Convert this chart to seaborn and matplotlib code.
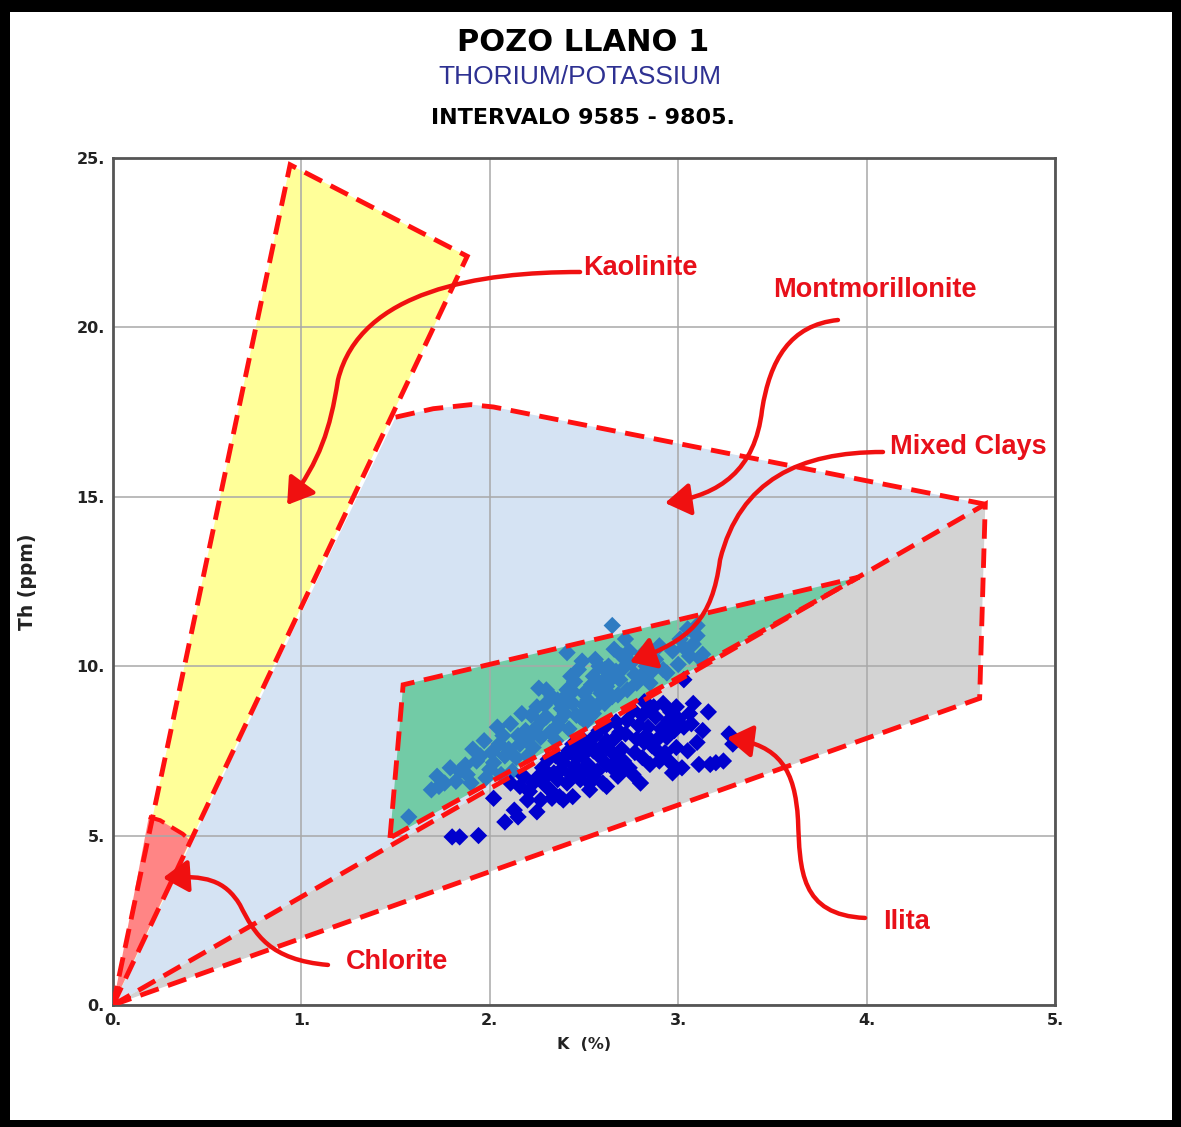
import numpy as np
import pandas as pd
import matplotlib.pyplot as plt
import seaborn as sns
from matplotlib.patches import Polygon, FancyArrowPatch, Rectangle
from matplotlib.path import Path

# --- scatter data (K %, Th ppm) ---
mixed_k = [1.57, 1.69, 1.73, 1.76, 1.79, 1.84, 1.87, 1.88, 1.93, 1.95, 1.97, 2.00, 2.02, 2.04, 2.05,
           2.08, 2.10, 2.14, 2.15, 2.17, 2.19, 2.21, 2.23, 2.25, 2.26, 2.27, 2.28, 2.30, 2.30, 2.32,
           2.34, 2.36, 2.37, 2.38, 2.41, 2.41, 2.43, 2.44, 2.46, 2.48, 2.49, 2.50, 2.52, 2.53, 2.55,
           2.55, 2.57, 2.58, 2.60, 2.62, 2.63, 2.65, 2.65, 2.67, 2.69, 2.70, 2.72, 2.73, 2.75, 2.78,
           2.80, 2.83, 2.85, 2.88, 2.94, 2.97, 3.00, 3.01, 3.05, 3.06, 3.10, 3.10, 3.12, 3.13, 2.20,
           2.12, 1.98, 2.35, 2.42, 1.90, 2.06, 2.61, 2.68, 2.92, 2.45, 2.58, 2.39, 2.51,
           1.72, 1.82, 1.91, 2.01, 2.07, 2.11, 2.16, 2.22, 2.24, 2.29, 2.33, 2.36, 2.40, 2.44, 2.47,
           2.50, 2.54, 2.56, 2.59, 2.61, 2.64, 2.66, 2.71, 2.74, 2.77, 2.81, 2.86, 2.90, 3.03, 3.08]
mixed_th = [5.55, 6.35, 6.45, 6.55, 7.00, 6.90, 7.08, 6.80, 7.20, 7.35, 7.80, 6.95, 7.15, 8.20, 7.70,
            7.35, 7.55, 7.30, 7.95, 8.60, 8.10, 7.90, 7.60, 8.80, 9.35, 7.90, 8.40, 9.30, 8.50, 8.05,
            8.10, 9.00, 8.40, 8.75, 10.40, 9.30, 9.70, 8.90, 8.55, 8.50, 10.15, 9.20, 9.00, 8.70, 9.70,
            8.60, 9.40, 8.90, 9.55, 9.40, 10.00, 11.20, 9.10, 9.85, 9.60, 10.30, 10.80, 9.30, 10.10, 9.50,
            9.70, 10.00, 9.50, 10.20, 9.80, 10.45, 10.05, 10.80, 11.10, 10.30, 10.90, 11.20, 10.20, 10.35, 7.35,
            6.90, 6.70, 7.80, 8.15, 6.55, 6.80, 8.90, 9.15, 9.90, 9.55, 10.00, 9.05, 8.35,
            6.75, 6.60, 7.55, 7.45, 7.95, 8.30, 7.70, 8.55, 8.15, 8.85, 9.10, 8.25, 8.60, 9.25, 9.90,
            8.85, 9.45, 10.20, 9.20, 9.90, 9.60, 10.50, 9.95, 10.45, 9.75, 10.35, 9.85, 10.60, 10.55, 10.65]

illite_k = [1.80, 1.84, 1.94, 2.02, 2.08, 2.13, 2.15, 2.25, 2.11, 2.16, 2.21, 2.25, 2.30, 2.34, 2.37,
            2.44, 2.41, 2.48, 2.55, 2.62, 2.65, 2.39, 2.46, 2.55, 2.62, 2.82, 2.85, 2.92, 2.99, 3.08,
            3.16, 3.03, 3.03, 3.13, 3.27, 3.29, 3.24, 3.17, 3.11, 3.02, 2.96, 2.97, 2.80, 2.94, 2.89,
            2.81, 2.74, 2.68, 2.60, 2.39, 2.32, 2.28, 2.35, 2.42, 2.50, 2.52, 2.58, 2.58, 2.67, 2.70,
            2.72, 2.76, 2.78, 2.84, 2.88, 2.90, 2.95, 2.68, 2.62, 2.47, 2.18, 2.27, 2.53, 2.85, 2.76,
            2.44, 2.67, 2.76, 2.31, 2.36, 2.56, 2.82, 2.98, 3.05, 2.90, 2.99,
            2.20, 2.23, 2.29, 2.33, 2.38, 2.40, 2.43, 2.45, 2.49, 2.51, 2.54, 2.57, 2.59, 2.61, 2.64,
            2.66, 2.69, 2.71, 2.73, 2.77, 2.79, 2.81, 2.83, 2.86, 2.87, 2.91, 2.93, 2.96, 3.00, 3.07,
            3.10, 3.20, 3.06, 2.48, 2.53, 2.71]
illite_th = [4.96, 4.96, 5.00, 6.10, 5.40, 5.75, 5.55, 5.70, 6.55, 6.45, 6.30, 6.70, 6.45, 6.85, 6.15,
             6.15, 6.55, 6.65, 6.75, 6.45, 7.00, 7.15, 7.30, 7.50, 7.80, 8.95, 8.80, 8.90, 8.80, 8.90,
             8.65, 9.60, 8.20, 8.10, 8.00, 7.70, 7.20, 7.10, 7.10, 7.00, 7.15, 6.85, 6.55, 7.90, 7.50,
             7.30, 7.00, 6.75, 6.55, 6.05, 6.35, 7.00, 7.35, 7.50, 7.80, 7.10, 7.35, 8.10, 8.35, 7.55,
             8.00, 8.70, 7.85, 8.20, 8.50, 7.90, 8.40, 7.25, 7.10, 6.90, 6.75, 6.05, 6.35, 7.10, 6.80,
             7.70, 8.35, 8.70, 7.25, 6.65, 7.95, 7.75, 8.10, 7.50, 7.20, 7.60,
             6.05, 6.55, 6.70, 6.10, 6.95, 7.35, 6.80, 7.05, 7.35, 6.95, 7.65, 6.90, 7.60, 8.20, 7.50,
             7.85, 8.05, 7.20, 8.40, 7.45, 8.25, 8.55, 7.95, 7.65, 8.80, 8.15, 7.45, 8.65, 8.45, 8.30,
             7.75, 7.15, 8.60, 7.55, 6.55, 6.95]

# --- clay mineral zones (K %, Th ppm vertices) ---
kaolinite_zone = [(0.0, 0.0), (0.94, 24.8), (1.88, 22.1)]
chlorite_zone = [(0.0, 0.0), (0.19, 5.55), (0.25, 5.45), (0.31, 5.25), (0.37, 5.05), (0.41, 4.85)]
chlorite_arc = [(0.19, 5.55), (0.25, 5.45), (0.31, 5.25), (0.37, 5.05), (0.41, 4.85)]
montmorillonite_zone = [(0.0, 0.0), (1.50, 17.35), (1.70, 17.6), (1.90, 17.72), (2.02, 17.65),
                        (4.63, 14.78)]
mixed_zone = [(1.47, 4.93), (1.54, 9.45), (3.96, 12.63)]
illite_zone = [(0.0, 0.0), (4.63, 14.78), (4.60, 9.05)]

# --- annotation labels and their curved arrows (cubic bezier control points) ---
labels = ['Kaolinite', 'Montmorillonite', 'Mixed Clays', 'Ilita', 'Chlorite']
label_pos = [(2.80, 21.75), (4.045, 21.1), (4.54, 16.47), (4.21, 2.45), (1.51, 1.27)]
arrow_paths = [
    [(2.479, 21.635), (1.948, 21.635), (1.311, 21.104), (1.194, 18.447), (1.152, 16.971), (1.099, 16.086), (0.924, 14.758)],
    [(3.848, 20.218), (3.593, 20.071), (3.487, 19.038), (3.445, 17.562), (3.408, 15.791), (3.222, 15.053), (2.930, 14.817)],
    [(4.087, 16.322), (3.646, 16.322), (3.328, 15.496), (3.222, 13.135), (3.179, 11.364), (3.063, 10.773), (2.744, 10.124)],
    [(3.992, 2.568), (3.646, 2.656), (3.646, 3.985), (3.636, 5.460), (3.620, 6.936), (3.540, 7.674), (3.259, 7.881)],
    [(1.141, 1.181), (0.833, 1.328), (0.754, 2.066), (0.674, 2.952), (0.594, 3.689), (0.488, 3.837), (0.265, 3.749)],
]

x_ticks = [0, 1, 2, 3, 4, 5]
y_ticks = [0, 5, 10, 15, 20, 25]

sns.set_theme(style='white')
plt.rcParams['font.family'] = ['DejaVu Sans']
label_font = ['Liberation Sans', 'DejaVu Sans']

fig = plt.figure(figsize=(11.81, 11.27), dpi=100)
ax = fig.add_axes([0.0957, 0.1083, 0.7976, 0.7515])

red = '#FF1010'
dash = (0, (4, 2))

# filled zones
ax.add_patch(Polygon(montmorillonite_zone, closed=True, facecolor='#D5E3F3', edgecolor='none', zorder=1))
ax.add_patch(Polygon(kaolinite_zone, closed=True, facecolor='#FFFF99', edgecolor='none', zorder=1))
ax.add_patch(Polygon(chlorite_zone, closed=True, facecolor='#FF8585', edgecolor='none', zorder=1.1))
ax.add_patch(Polygon(illite_zone, closed=True, facecolor='#D3D3D3', edgecolor='none', zorder=1))
ax.add_patch(Polygon(mixed_zone, closed=True, facecolor='#72CBA6', edgecolor='none', zorder=1.1))

ax.set_axisbelow('line')
ax.grid(True, color='#A8A8A8', linewidth=1.1)

df = pd.DataFrame({
    'K': mixed_k + illite_k,
    'Th': mixed_th + illite_th,
    'group': ['mixed'] * len(mixed_k) + ['illite'] * len(illite_k),
})
sns.scatterplot(data=df, x='K', y='Th', hue='group', palette={'mixed': '#2F7CC2', 'illite': '#0000CD'},
                marker='D', s=78, linewidth=0, legend=False, ax=ax, zorder=3)

# dashed outlines
for zone in [kaolinite_zone, illite_zone]:
    ax.add_patch(Polygon(zone, closed=True, fill=False, edgecolor=red, linewidth=3.5, linestyle=dash, zorder=4))
ax.add_patch(Polygon(montmorillonite_zone[1:], closed=False, fill=False, edgecolor=red, linewidth=3.5,
                     linestyle=dash, zorder=4))
ax.add_patch(Polygon(mixed_zone, closed=True, fill=False, edgecolor=red, linewidth=3.5, linestyle=dash, zorder=4))
ax.add_patch(Polygon(chlorite_arc, closed=False, fill=False, edgecolor=red, linewidth=3.0, linestyle=dash, zorder=4))

# labels and arrows
for text, pos, pts in zip(labels, label_pos, arrow_paths):
    ax.text(pos[0], pos[1], text, color='#E8101A', fontsize=19.5, fontweight='bold', family=label_font,
            ha='center', va='center', zorder=6)
    codes = [Path.MOVETO] + [Path.CURVE4] * 6
    arrow = FancyArrowPatch(path=Path(pts, codes), arrowstyle='-|>,head_length=0.7,head_width=0.45',
                            mutation_scale=22, color='#F01010', linewidth=3.2, zorder=5)
    ax.add_patch(arrow)

ax.set_xlim(0, 5)
ax.set_ylim(0, 25)
ax.set_xticks(x_ticks)
ax.set_yticks(y_ticks)
ax.set_xticklabels([f'{t}.' for t in x_ticks], fontsize=11.5, fontweight='bold', color='#222222')
ax.set_yticklabels([f'{t}.' for t in y_ticks], fontsize=11.5, fontweight='bold', color='#222222')
ax.tick_params(length=0, pad=6)
ax.set_xlabel('K  (%)', fontsize=11.5, fontweight='bold', labelpad=6, color='#222222')
ax.set_ylabel('Th (ppm)', fontsize=13.5, fontweight='bold', labelpad=28, color='#222222')
for s in ax.spines.values():
    s.set_color('#555555')
    s.set_linewidth(2)

fig.text(0.494, 0.9627, 'POZO LLANO 1', ha='center', va='center', fontsize=22, fontweight='heavy', color='black')
fig.text(0.491, 0.9317, 'THORIUM/POTASSIUM', ha='center', va='center', fontsize=19, color='#2E3192',
         family=['Liberation Sans', 'DejaVu Sans'])
fig.text(0.494, 0.8953, 'INTERVALO 9585 - 9805.', ha='center', va='center', fontsize=16, fontweight='bold',
         color='black')

# black frame around the picture
W, H = 1181, 1127
for x0, y0, w, h in [(0, H - 12, W, 12), (0, 0, 10, H), (W - 9, 0, 9, H), (0, 0, W, 7)]:
    fig.patches.append(Rectangle((x0 / W, y0 / H), w / W, h / H, transform=fig.transFigure,
                                 facecolor='black', edgecolor='none'))

plt.savefig('out.png', dpi=100)
plt.close()
